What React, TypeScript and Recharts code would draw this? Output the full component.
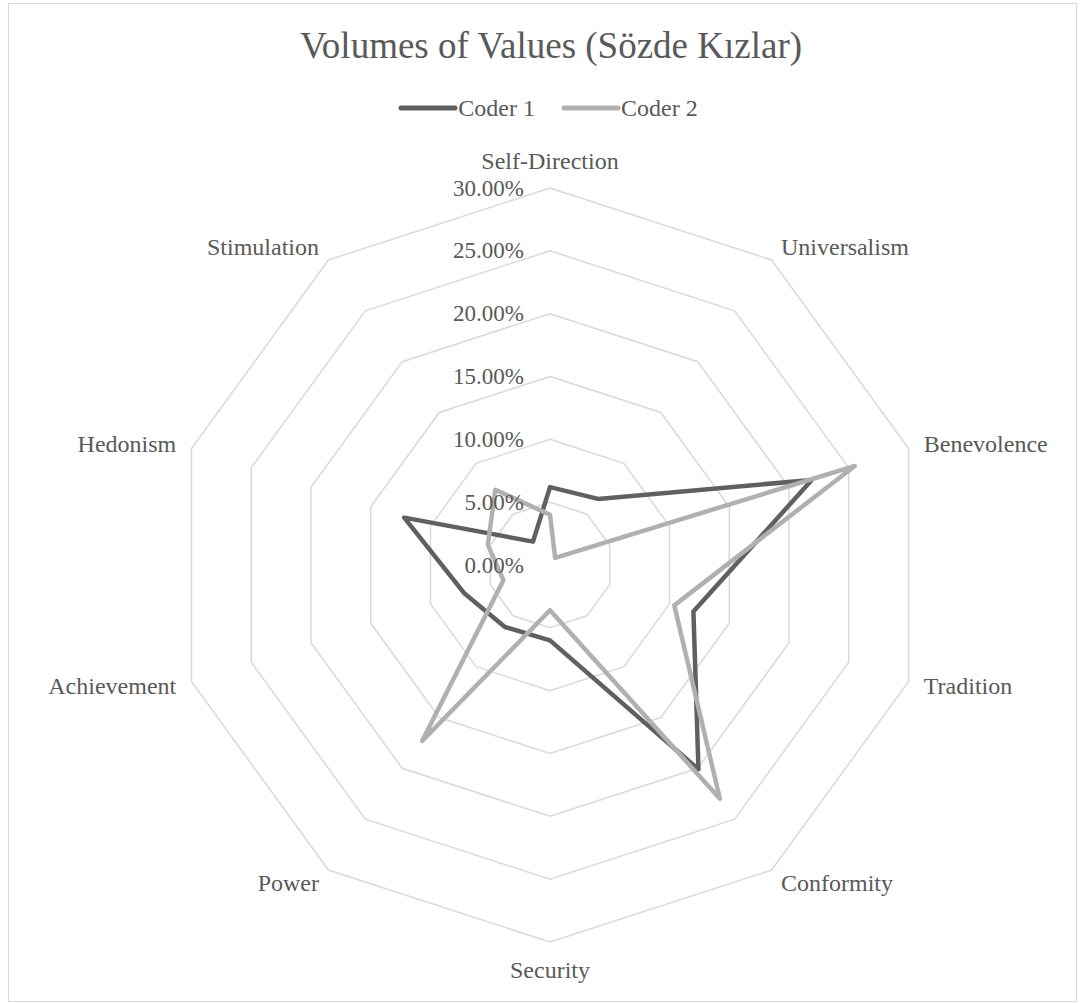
import {
  RadarChart,
  Radar,
  PolarGrid,
  PolarAngleAxis,
  PolarRadiusAxis,
  Legend,
} from "recharts";

const categories = [
  "Self-Direction",
  "Universalism",
  "Benevolence",
  "Tradition",
  "Conformity",
  "Security",
  "Power",
  "Achievement",
  "Hedonism",
  "Stimulation",
];

const coder1 = [0.062, 0.065, 0.219, 0.12, 0.201, 0.06, 0.061, 0.072, 0.122, 0.023];
const coder2 = [0.04, 0.007, 0.255, 0.104, 0.23, 0.036, 0.173, 0.039, 0.052, 0.074];

const radiusTicks = [0, 0.05, 0.1, 0.15, 0.2, 0.25, 0.3];

const seriesNames = ["Coder 1", "Coder 2"];
const seriesColors = ["#606060", "#b0b0b0"];

const FONT = '"Liberation Serif", "Times New Roman", serif';
const TEXT = "#595959";
const CX = 550;
const CY = 565;

const data = categories.map((category, i) => ({
  category,
  c1: coder1[i],
  c2: coder2[i],
}));

function AngleTick(props: any) {
  const { x, y, textAnchor, payload } = props;
  let dy = 0;
  if (textAnchor === "middle") {
    dy = y < CY ? -11 : 12;
  }
  return (
    <text
      x={x}
      y={y + dy}
      textAnchor={textAnchor}
      dominantBaseline="central"
      fontSize={24}
      fontFamily={FONT}
      fill={TEXT}
    >
      {payload.value}
    </text>
  );
}

function RadiusTick(props: any) {
  const { x, y, payload } = props;
  return (
    <text
      x={x - 26}
      y={y}
      textAnchor="end"
      dominantBaseline="central"
      fontSize={23}
      fontFamily={FONT}
      fill={TEXT}
    >
      {`${(payload.value * 100).toFixed(2)}%`}
    </text>
  );
}

function LegendContent() {
  return (
    <div
      style={{
        display: "flex",
        justifyContent: "center",
        alignItems: "center",
        gap: 26,
        fontFamily: FONT,
        fontSize: 24,
        color: TEXT,
        lineHeight: "24px",
        paddingLeft: 12,
      }}
    >
      {seriesNames.map((name, i) => (
        <div key={name} style={{ display: "flex", alignItems: "center" }}>
          <svg width={60} height={10}>
            <line
              x1={3}
              y1={5}
              x2={57}
              y2={5}
              stroke={seriesColors[i]}
              strokeWidth={5}
              strokeLinecap="round"
            />
          </svg>
          <span>{name}</span>
        </div>
      ))}
    </div>
  );
}

export default function App() {
  return (
    <div
      style={{
        position: "absolute",
        left: 0,
        top: 0,
        width: 1084,
        height: 1003,
        background: "#ffffff",
      }}
    >
      <div
        style={{
          position: "absolute",
          left: 8,
          top: 3,
          width: 1067,
          height: 997,
          border: "1px solid #d9d9d9",
        }}
      />
      <div
        style={{
          position: "absolute",
          left: 0,
          top: 24,
          width: 1102,
          textAlign: "center",
          fontFamily: FONT,
          fontSize: 37,
          color: TEXT,
          lineHeight: "44px",
        }}
      >
        Volumes of Values (Sözde Kızlar)
      </div>
      <div style={{ position: "absolute", left: 0, top: 0 }}>
        <RadarChart
          width={1084}
          height={1003}
          data={data}
          cx={CX}
          cy={CY}
          outerRadius={377}
          margin={{ top: 0, right: 0, bottom: 0, left: 0 }}
        >
          <PolarGrid
            gridType="polygon"
            radialLines={false}
            stroke="#d9d9d9"
            strokeWidth={1.5}
          />
          <PolarAngleAxis
            dataKey="category"
            tick={<AngleTick />}
            tickSize={16}
            tickLine={false}
            axisLine={false}
          />
          <PolarRadiusAxis
            angle={90}
            type="number"
            domain={[0, 0.3]}
            ticks={radiusTicks}
            tick={<RadiusTick />}
            axisLine={false}
            tickLine={false}
          />
          <Radar
            name={seriesNames[0]}
            dataKey="c1"
            stroke={seriesColors[0]}
            strokeWidth={4.5}
            strokeLinejoin="round"
            fill="none"
            fillOpacity={0}
            dot={false}
            isAnimationActive={false}
          />
          <Radar
            name={seriesNames[1]}
            dataKey="c2"
            stroke={seriesColors[1]}
            strokeWidth={4.5}
            strokeLinejoin="round"
            fill="none"
            fillOpacity={0}
            dot={false}
            isAnimationActive={false}
          />
          <Legend
            content={<LegendContent />}
            wrapperStyle={{ position: "absolute", top: 96, left: 0, width: 1084 }}
          />
        </RadarChart>
      </div>
    </div>
  );
}
